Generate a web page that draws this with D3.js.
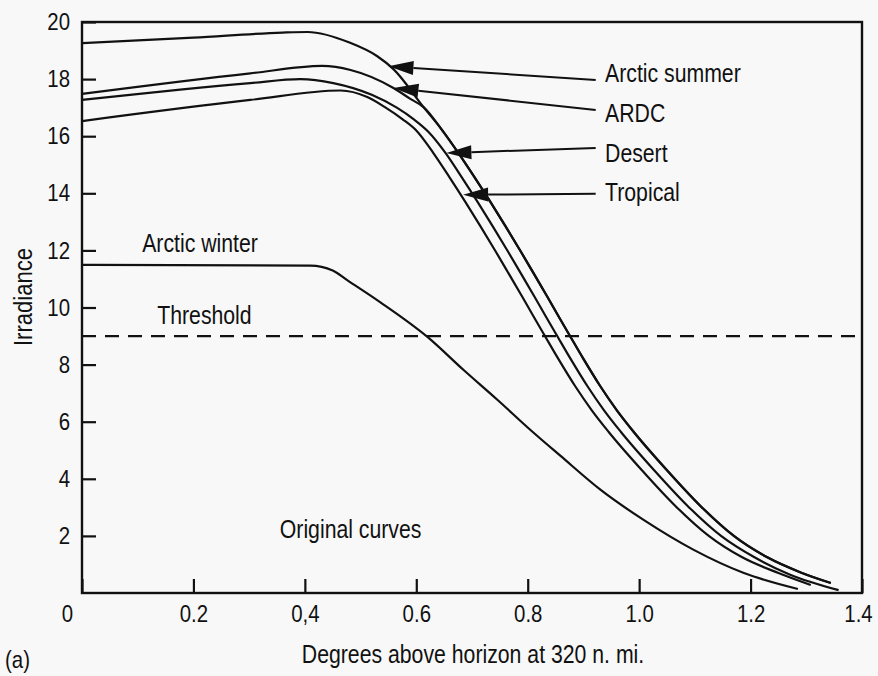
<!DOCTYPE html>
<html>
<head>
<meta charset="utf-8">
<script src="https://cdn.jsdelivr.net/npm/d3@7.9.0/dist/d3.min.js"></script>
<style>
  body { margin: 0; background: #f8f8f8; }
  text { font-family: "Liberation Sans", Arial, sans-serif; fill: #111; }
</style>
</head>
<body>
<svg width="878" height="676"></svg>
<script>
// tick values / labels
const xTicks = [0, 0.2, 0.4, 0.6, 0.8, 1.0, 1.2, 1.4];
const xTickLabels = ["0", "0.2", "0,4", "0.6", "0.8", "1.0", "1.2", "1.4"];
const yTicks = [2, 4, 6, 8, 10, 12, 14, 16, 18, 20];

// curves: [degrees, irradiance]
const arcticSummer = [[0, 19.26], [0.2, 19.45], [0.36, 19.63], [0.405, 19.65], [0.48, 19.28], [0.53, 18.8], [0.559, 18.35],
  [0.613, 17.02], [0.645, 16.25], [0.676, 15.4], [0.705, 14.55], [0.733, 13.7], [0.76, 12.85], [0.787, 11.98],
  [0.812, 11.15], [0.836, 10.35], [0.855, 9.7], [0.873, 9.1], [0.9, 8.2], [0.93, 7.25], [0.96, 6.4], [0.99, 5.65],
  [1.05, 4.3], [1.11, 3.05], [1.17, 2.0], [1.23, 1.25], [1.29, 0.72], [1.344, 0.35]];
const ardc = [[0, 17.48], [0.302, 18.2], [0.431, 18.46], [0.482, 18.32], [0.559, 17.69], [0.59, 17.3],
  [0.613, 17.02], [0.645, 16.25], [0.676, 15.4], [0.705, 14.55], [0.733, 13.7], [0.76, 12.85], [0.787, 11.98],
  [0.812, 11.15], [0.836, 10.35], [0.855, 9.7], [0.873, 9.1], [0.9, 8.2], [0.93, 7.25], [0.96, 6.4], [0.99, 5.65],
  [1.05, 4.3], [1.11, 3.05], [1.17, 2.0], [1.23, 1.25], [1.29, 0.72], [1.344, 0.35]];
const desert = [[0, 17.27], [0.302, 17.86], [0.392, 18.0], [0.451, 17.86], [0.52, 17.45], [0.565, 17.0], [0.595, 16.6],
  [0.622, 16.15], [0.653, 15.4], [0.682, 14.55], [0.71, 13.7], [0.737, 12.85], [0.764, 11.98], [0.789, 11.15],
  [0.813, 10.35], [0.832, 9.7], [0.85, 9.1], [0.877, 8.2], [0.907, 7.25], [0.937, 6.4], [0.967, 5.65], [1.027, 4.3],
  [1.087, 3.05], [1.147, 2.0], [1.207, 1.25], [1.27, 0.65], [1.358, 0.1]];
const tropical = [[0, 16.53], [0.302, 17.27], [0.464, 17.6], [0.512, 17.37], [0.545, 17.0], [0.575, 16.6], [0.6, 16.2],
  [0.631, 15.4], [0.66, 14.55], [0.688, 13.7], [0.715, 12.85], [0.742, 11.98], [0.767, 11.15], [0.791, 10.35],
  [0.81, 9.7], [0.828, 9.1], [0.855, 8.2], [0.885, 7.25], [0.915, 6.4], [0.945, 5.65], [1.005, 4.3], [1.065, 3.05],
  [1.125, 2.0], [1.185, 1.25], [1.25, 0.7], [1.308, 0.28]];
const arcticWinter = [[0, 11.49], [0.41, 11.47], [0.45, 11.3], [0.476, 10.96], [0.535, 10.19], [0.62, 8.97], [0.685, 7.81],
  [0.746, 6.76], [0.805, 5.71], [0.859, 4.8], [0.931, 3.61], [1.008, 2.56], [1.098, 1.51], [1.188, 0.7], [1.285, 0.14]];
const threshold = 9;

// arrows pointing from the right-hand labels to the curves
const arrowLabels = ["Arctic summer", "ARDC", "Desert", "Tropical"];
const arrowTips = [[0.55, 18.45], [0.559, 17.69], [0.654, 15.41], [0.684, 13.95]];
const arrowTails = [[0.922, 17.97], [0.922, 16.92], [0.922, 15.59], [0.922, 13.98]];
const arrowLabelY = [17.9, 16.5, 15.1, 13.73];

const svg = d3.select("svg");
const x = d3.scaleLinear().domain([0, 1.4]).range([82, 862]);
const y = d3.scaleLinear().domain([0, 20]).range([593, 22]);
const ink = "#111";
const squeeze = 0.85; // the scanned typeface is narrow

function label(px, py, str, size, anchor = "start", rot = 0) {
  return svg.append("text")
    .attr("transform", `translate(${px},${py}) rotate(${rot}) scale(${squeeze},1)`)
    .attr("text-anchor", anchor).attr("font-size", size).text(str);
}

// frame
svg.append("rect")
  .attr("x", x(0)).attr("y", y(20))
  .attr("width", x(1.4) - x(0)).attr("height", y(0) - y(20))
  .attr("fill", "none").attr("stroke", ink).attr("stroke-width", 2.4);

// axes (ticks point inward)
const yAxis = svg.append("g")
  .attr("transform", `translate(${x(0)},0)`)
  .call(d3.axisLeft(y).tickValues(yTicks).tickSize(-14).tickPadding(12));
const xAxis = svg.append("g")
  .attr("transform", `translate(0,${y(0)})`)
  .call(d3.axisBottom(x).tickValues(xTicks).tickSize(-14).tickPadding(12)
    .tickFormat((d, i) => xTickLabels[i]));

[yAxis, xAxis].forEach(g => {
  g.select(".domain").remove();
  g.selectAll(".tick line").attr("stroke", ink).attr("stroke-width", 2.2);
  g.selectAll(".tick text").attr("font-size", 24).attr("fill", ink)
    .attr("font-family", null).attr("transform", `scale(${squeeze},1)`);
});
yAxis.selectAll(".tick text").attr("x", -12 / squeeze);
xAxis.selectAll(".tick text").filter(d => d === 0).attr("dx", -15 / squeeze);
xAxis.selectAll(".tick text").filter(d => d === 1.4).attr("dx", -4 / squeeze);

// threshold
svg.append("line")
  .attr("x1", x(0)).attr("x2", x(1.4))
  .attr("y1", y(threshold)).attr("y2", y(threshold))
  .attr("stroke", ink).attr("stroke-width", 2.2).attr("stroke-dasharray", "14,9");

// curves
const line = d3.line().x(d => x(d[0])).y(d => y(d[1])).curve(d3.curveMonotoneX);
[arcticSummer, ardc, desert, tropical, arcticWinter].forEach(s => {
  svg.append("path").attr("d", line(s))
    .attr("fill", "none").attr("stroke", ink).attr("stroke-width", 2.2);
});

// arrows + labels
arrowLabels.forEach((lab, i) => {
  const tx = x(arrowTips[i][0]), ty = y(arrowTips[i][1]);
  const sx = x(arrowTails[i][0]), sy = y(arrowTails[i][1]);
  const len = Math.hypot(sx - tx, sy - ty);
  const ux = (sx - tx) / len, uy = (sy - ty) / len;
  const bx = tx + ux * 25, by = ty + uy * 25;
  svg.append("line").attr("x1", sx).attr("y1", sy).attr("x2", bx).attr("y2", by)
    .attr("stroke", ink).attr("stroke-width", 2);
  svg.append("polygon")
    .attr("points", [[tx, ty], [bx - uy * 7, by + ux * 7], [bx + uy * 7, by - ux * 7]].join(" "))
    .attr("fill", ink);
  label(x(0.9388), y(arrowLabelY[i]), lab, 25);
});

// other text
label(x(0.108), y(11.94), "Arctic winter", 25);
label(x(0.135), y(9.42), "Threshold", 25);
label(x(0.355), y(1.93), "Original curves", 25);

label(32, 297, "Irradiance", 26, "middle", -90);
label(473, 663, "Degrees above horizon at 320 n. mi.", 25, "middle");
label(5, 668, "(a)", 24);
</script>
</body>
</html>
